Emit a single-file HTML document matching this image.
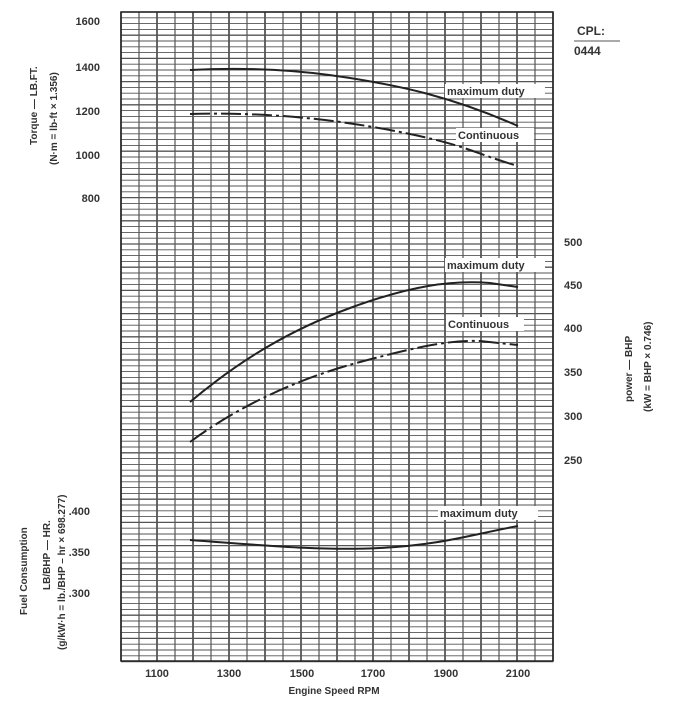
<!DOCTYPE html>
<html><head><meta charset="utf-8"><style>
body{margin:0;background:#fff;width:680px;height:720px;overflow:hidden}
svg{display:block}
text{font-family:"Liberation Sans",sans-serif;font-weight:bold;fill:#333}
</style></head><body>
<svg id="s" width="680" height="720" viewBox="0 0 680 720">
<g id="grid"></g>
<g fill="#fff">
<rect x="445" y="84" width="100" height="14"/><rect x="456" y="128" width="78" height="14"/>
<rect x="445" y="258" width="100" height="14"/><rect x="446" y="317" width="78" height="14"/>
<rect x="438" y="506" width="100" height="14"/>
</g>
<g fill="none" stroke="#222" stroke-width="2">
<path d="M190,70 C250,67 300,70 350,78 S450,96 518,126"/>
<path d="M190,114 C260,112 330,118 400,132 S470,152 518,166" stroke-dasharray="20,4,3,4"/>
<path d="M190,402 C240,360 290,330 350,308 S450,280 490,283 L518,287"/>
<path d="M190,442 C240,405 300,378 360,362 S450,340 480,341 L518,345" stroke-dasharray="20,4,3,4"/>
<path d="M190,540 C260,545 320,551 380,548 S470,535 518,526"/>
</g>
<g font-size="11" text-anchor="end">
<text x="100" y="25">1600</text><text x="100" y="71">1400</text><text x="100" y="115">1200</text><text x="100" y="159">1000</text><text x="100" y="202">800</text>
<text x="90" y="515">.400</text><text x="90" y="556">.350</text><text x="90" y="597">.300</text>
</g>
<g font-size="11">
<text x="564" y="246">500</text><text x="564" y="289">450</text><text x="564" y="332">400</text><text x="564" y="376">350</text><text x="564" y="420">300</text><text x="564" y="464">250</text>
</g>
<g font-size="11" text-anchor="middle">
<text x="157" y="677">1100</text><text x="229" y="677">1300</text><text x="302" y="677">1500</text><text x="373" y="677">1700</text><text x="446" y="677">1900</text><text x="518" y="677">2100</text>
<text x="334" y="694" font-size="10">Engine Speed RPM</text>
</g>
<g font-size="11">
<text x="447" y="95">maximum duty</text><text x="458" y="139">Continuous</text>
<text x="447" y="269">maximum duty</text><text x="448" y="328">Continuous</text>
<text x="440" y="517">maximum duty</text>
<text x="577" y="35" font-size="12">CPL:</text><text x="574" y="55" font-size="12">0444</text>
</g>
<line x1="574" y1="41" x2="620" y2="41" stroke="#555"/>
<g font-size="10">
<text transform="translate(37,145) rotate(-90)">Torque — LB.FT.</text>
<text transform="translate(57,165) rotate(-90)">(N·m = lb-ft × 1.356)</text>
<text transform="translate(27,615) rotate(-90)">Fuel Consumption</text>
<text transform="translate(50,590) rotate(-90)">LB/BHP — HR.</text>
<text transform="translate(65,650) rotate(-90)">(g/kW·h = lb./BHP – hr × 698.277)</text>
<text transform="translate(632,402) rotate(-90)">power — BHP</text>
<text transform="translate(651,412) rotate(-90)">(kW = BHP × 0.746)</text>
</g>
</svg>
<script>
var g=document.getElementById('grid'),h='';
for(var i=0;i<=24;i++){var x=121+i*18;h+='<line x1="'+x+'" y1="12" x2="'+x+'" y2="661" stroke="#333" stroke-width="'+(i%2?1:1.5)+'"/>';}
for(var y=12,k=0;y<=662;y+=5.8,k++){h+='<line x1="121" y1="'+y.toFixed(1)+'" x2="553" y2="'+y.toFixed(1)+'" stroke="#555" stroke-width="'+(k%4==0?1.3:0.9)+'"/>';}
h+='<rect x="121" y="12" width="432" height="649" fill="none" stroke="#222" stroke-width="1.5"/>';
g.innerHTML=h;
</script>
</body></html>
